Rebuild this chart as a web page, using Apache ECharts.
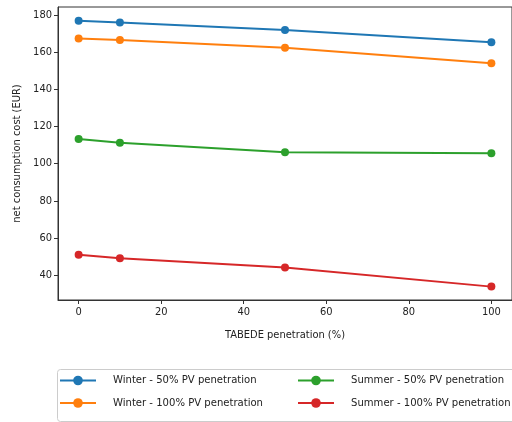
<!DOCTYPE html>
<html><head><meta charset="utf-8">
<script src="https://cdn.jsdelivr.net/npm/echarts@6/dist/echarts.min.js"></script>
<style>html,body{margin:0;padding:0;background:#fff}#c{width:512px;height:422px}</style>
</head><body><div id="c"></div>
<script>
const xValues = [0, 10, 50, 100];
const winter50 = [176.9, 175.9, 171.9, 165.3];
const winter100 = [167.4, 166.5, 162.4, 154.0];
const summer50 = [113.3, 111.2, 106.1, 105.6];
const summer100 = [51.0, 49.1, 44.1, 33.8];
const seriesNames = ['Winter - 50% PV penetration', 'Winter - 100% PV penetration', 'Summer - 50% PV penetration', 'Summer - 100% PV penetration'];
const xTicks = [0, 20, 40, 60, 80, 100];
const yTicks = [40, 60, 80, 100, 120, 140, 160, 180];
const colors = ['#1f77b4', '#ff7f0e', '#2ca02c', '#d62728'];
const FONT = '"DejaVu Sans Condensed", "Liberation Sans Narrow", sans-serif';

const allSeries = [winter50, winter100, summer50, summer100];
const chart = echarts.init(document.getElementById('c'), null, {renderer: 'canvas'});
const legendText = {fontFamily: FONT, fontSize: 11.2, color: '#222', padding: [0, 0, 0, 12]};
chart.setOption({
  animation: false,
  color: colors,
  grid: {left: 58, top: 7, width: 456, height: 293, show: true, borderColor: '#333', borderWidth: 1, containLabel: false},
  xAxis: {
    type: 'value', min: -5, max: 105,
    name: 'TABEDE penetration (%)', nameLocation: 'middle', nameGap: 30,
    nameTextStyle: {fontFamily: FONT, fontSize: 11, color: '#222'},
    axisLine: {show: true, onZero: false, lineStyle: {color: '#333'}},
    axisTick: {show: true, length: 4, lineStyle: {color: '#333'}, customValues: xTicks},
    axisLabel: {fontFamily: FONT, fontSize: 11, color: '#222', margin: 7, customValues: xTicks},
    splitLine: {show: false}
  },
  yAxis: {
    type: 'value', min: 26.6, max: 184.3,
    name: 'net consumption cost (EUR)', nameLocation: 'middle', nameGap: 32,
    nameTextStyle: {fontFamily: FONT, fontSize: 11, color: '#222'},
    axisLine: {show: true, onZero: false, lineStyle: {color: '#333'}},
    axisTick: {show: true, length: 4, lineStyle: {color: '#333'}, customValues: yTicks},
    axisLabel: {fontFamily: FONT, fontSize: 11, color: '#222', margin: 6, customValues: yTicks},
    splitLine: {show: false}
  },
  legend: [
    {data: [seriesNames[0], seriesNames[1]], orient: 'vertical', left: 59, top: 375, padding: 0, itemWidth: 36, itemHeight: 12, itemGap: 11.5, textStyle: legendText},
    {data: [seriesNames[2], seriesNames[3]], orient: 'vertical', left: 297, top: 375, padding: 0, itemWidth: 36, itemHeight: 12, itemGap: 11.5, textStyle: legendText}
  ],
  graphic: [{type: 'rect', left: 55, top: 367, shape: {width: 470, height: 52, r: 3}, style: {fill: 'none', stroke: '#ccc', lineWidth: 1}}],
  series: allSeries.map((d, i) => ({
    name: seriesNames[i], type: 'line',
    data: xValues.map((x, j) => [x, d[j]]),
    symbol: 'circle', symbolSize: 8,
    lineStyle: {width: 2, color: colors[i]},
    itemStyle: {color: colors[i]}
  }))
});
</script></body></html>
